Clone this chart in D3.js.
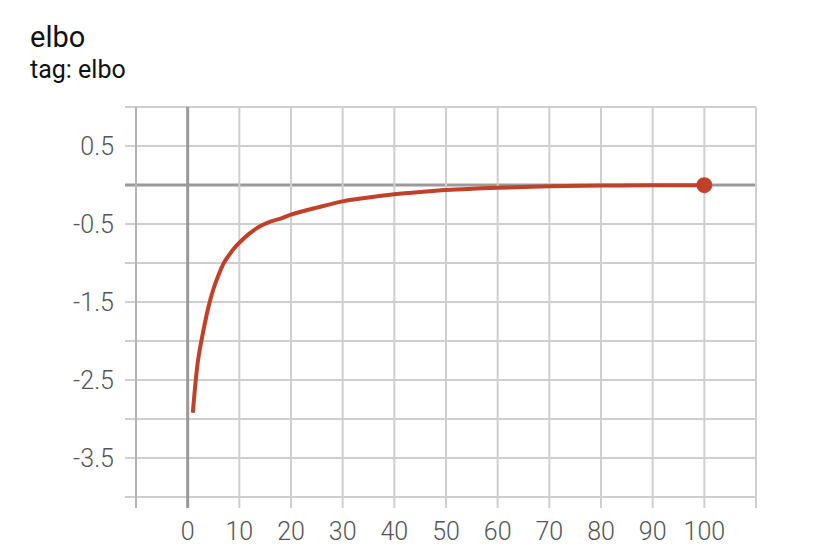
<!DOCTYPE html>
<html>
<head>
<meta charset="utf-8">
<script src="https://cdn.jsdelivr.net/npm/d3@7"></script>
<style>
  body { margin: 0; background: #fff; }
  svg text { font-family: Roboto, "Liberation Sans", sans-serif; }
</style>
</head>
<body>
<svg id="chart" width="816" height="560"></svg>
<script>
// elbo values
var steps = [1, 2, 3, 4, 5, 6, 7, 8, 9, 10, 12, 14, 16, 18, 20, 25, 30, 35, 40, 45, 50, 60, 70, 80, 90, 100];
var elbo = [-2.92, -2.25, -1.88, -1.57, -1.33, -1.15, -1.0, -0.9, -0.81, -0.74, -0.62, -0.53, -0.47, -0.43, -0.38,
            -0.29, -0.21, -0.16, -0.12, -0.09, -0.065, -0.035, -0.016, -0.008, -0.004, -0.002];

var xGrid = [-10, 0, 10, 20, 30, 40, 50, 60, 70, 80, 90, 100, 110];
var xLabels = [0, 10, 20, 30, 40, 50, 60, 70, 80, 90, 100];
var yGrid = [1, 0.5, 0, -0.5, -1, -1.5, -2, -2.5, -3, -3.5, -4];
var yLabels = [0.5, -0.5, -1.5, -2.5, -3.5];

var svg = d3.select("#chart");

var x = d3.scaleLinear().domain([-10, 110]).range([136, 756]);
var y = d3.scaleLinear().domain([-4, 1]).range([497, 107]);

// title
svg.append("text").attr("x", 30).attr("y", 47)
    .style("font-size", "29px").style("fill", "#111").text("elbo");
svg.append("text").attr("x", 30).attr("y", 78)
    .style("font-size", "25px").style("fill", "#111").text("tag: elbo");

var grid = svg.append("g");

// horizontal lines, they stick out a bit on the left
grid.selectAll(".hl").data(yGrid).enter().append("line")
    .attr("x1", 125).attr("x2", x(110))
    .attr("y1", function (d) { return y(d); })
    .attr("y2", function (d) { return y(d); })
    .attr("stroke", function (d) { return d == 0 ? "#9a9a9a" : "#cfcfcf"; })
    .attr("stroke-width", function (d) { return d == 0 ? 3 : 2; });

// vertical lines, sticking out at the bottom
grid.selectAll(".vl").data(xGrid).enter().append("line")
    .attr("y1", y(1)).attr("y2", 508)
    .attr("x1", function (d) { return x(d); })
    .attr("x2", function (d) { return x(d); })
    .attr("stroke", function (d) {
        if (d == 0) return "#9a9a9a";
        if (d == -10) return "#b4b4b4";
        return "#cfcfcf";
    })
    .attr("stroke-width", function (d) { return d == 0 ? 3 : 2; });

// tick labels
svg.append("g").selectAll("text").data(yLabels).enter().append("text")
    .attr("x", 114)
    .attr("y", function (d) { return y(d); })
    .attr("dy", "0.36em")
    .attr("text-anchor", "end")
    .style("font-size", "25px").style("font-weight", 300).style("fill", "#555")
    .text(function (d) { return d; });

svg.append("g").selectAll("text").data(xLabels).enter().append("text")
    .attr("x", function (d) { return x(d); })
    .attr("y", 531)
    .attr("dy", "0.36em")
    .attr("text-anchor", "middle")
    .style("font-size", "25px").style("font-weight", 300).style("fill", "#555")
    .text(function (d) { return d; });

var pts = steps.map(function (s, i) { return [s, elbo[i]]; });

var line = d3.line()
    .x(function (d) { return x(d[0]); })
    .y(function (d) { return y(d[1]); })
    .curve(d3.curveCatmullRom.alpha(0.5));

svg.append("path").datum(pts)
    .attr("d", line)
    .attr("fill", "none")
    .attr("stroke", "#c0402a")
    .attr("stroke-width", 4);

var last = pts[pts.length - 1];
svg.append("circle")
    .attr("cx", x(last[0])).attr("cy", y(last[1]))
    .attr("r", 8).attr("fill", "#c0402a");
</script>
</body>
</html>
